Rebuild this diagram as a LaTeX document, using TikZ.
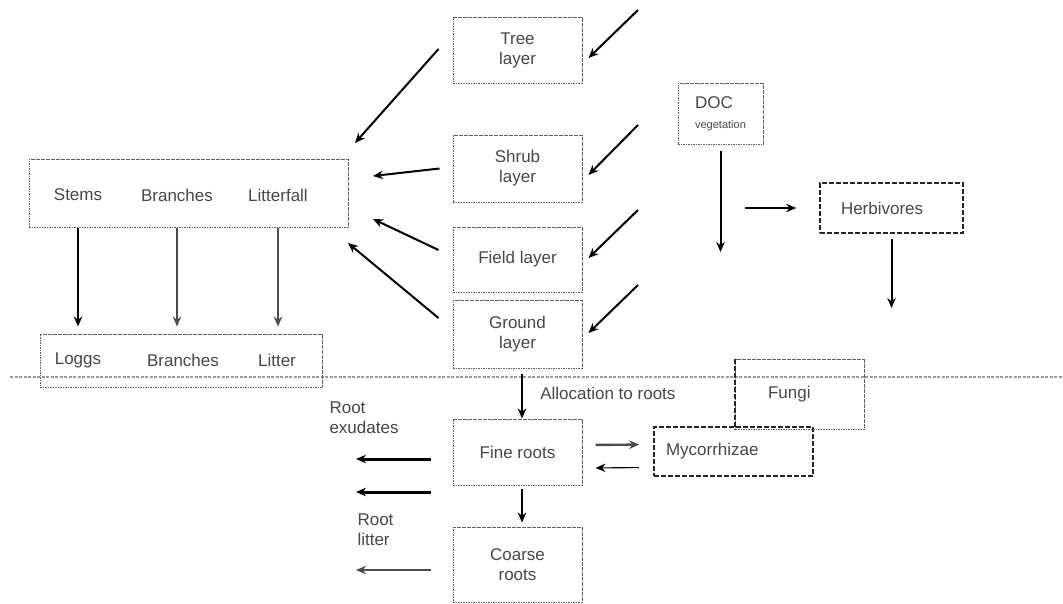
\documentclass[tikz,border=0pt]{standalone}
\usepackage{fontspec}
\setmainfont{Liberation Sans}
\usetikzlibrary{positioning,arrows.meta}

\begin{document}
\begin{tikzpicture}[
    x=1pt, y=-1pt,
    font=\fontsize{17}{20}\selectfont,
    text=black!72,
    pool/.style={draw=gray!75!black,dash pattern=on 1.6pt off 0.9pt,line width=1pt,align=center,minimum width=129pt},
    heavy/.style={draw=black!85,dash pattern=on 5pt off 2pt,line width=1.6pt},
    flow/.style={-{Stealth[length=10pt,width=8.5pt]},line width=2pt,draw=black},
    greyflow/.style={flow,draw=gray!60!black,line width=2.8pt},
    boldflow/.style={flow,line width=3pt},
    thinflow/.style={flow,line width=1.1pt},
    soil/.style={draw=gray!80,dash pattern=on 3pt off 1.5pt,line width=2.6pt}
]
\useasboundingbox (0,0) rectangle (1063,603);

% Soil surface
\draw[soil] (10,377) -- (1063,377);

% Vegetation layers
\node[pool,minimum height=66pt] (tree) at (517.5,50) {Tree\\layer};
\node[pool,minimum height=67pt] (shrub) at (517.5,168.5) {Shrub\\layer};
\node[pool,minimum height=65pt] (field) at (517.5,259.5) {Field layer};
\node[pool,minimum height=68pt] (ground) at (517.5,334) {Ground\\layer};

% DOC and herbivores
\node[pool,minimum width=85pt,minimum height=61pt,align=left] (doc) at (720.5,113.5) {DOC\\{\fontsize{11}{13}\selectfont vegetation}};
\node[pool,heavy,minimum height=50pt,text width=101pt,inner xsep=21pt,align=left] (herb) at (891.5,208) {Herbivores};

% Above-ground litter
\node[pool,minimum width=319pt,minimum height=68pt] (stems) at (188.5,193) {};
\node (stemsT) at (78,195) {Stems};
\node (branchT) at (177,195) {Branches};
\node (fallT) at (278,195) {Litterfall};

\node[pool,minimum width=282pt,minimum height=53pt] (loggs) at (181,360.5) {};
\node (loggsT) at (78,360) {Loggs};
\node (brT) at (183,360) {Branches};
\node (litT) at (277,360) {Litter};

\draw[flow,shorten >=7pt] (stems.south -| stemsT) -- (loggs.north -| stemsT);
\draw[greyflow,shorten >=7pt] (stems.south -| branchT) -- (loggs.north -| branchT);
\draw[greyflow,shorten >=7pt] (stems.south -| fallT) -- (loggs.north -| fallT);

% Roots
\node[pool,minimum height=66pt] (fine) at (517.5,452) {Fine roots};
\node[pool,minimum height=75pt] (coarse) at (517.5,564.5) {Coarse\\roots};

\draw[flow,shorten <=5pt] ([xshift=4.5pt]ground.south) -- node[right=14pt,pos=0.5] {Allocation to roots} ([xshift=4.5pt]fine.north);
\draw[flow,shorten <=3pt,shorten >=4pt] ([xshift=4.5pt]fine.south) -- ([xshift=4.5pt]coarse.north);

% Fungi and mycorrhizae
\node[pool,heavy,minimum height=49pt,text width=135pt,inner xsep=12pt,align=left] (myc) at (733.5,451.5) {Mycorrhizae};
\node[pool,minimum height=70pt,text width=64pt,inner xsep=31pt,align=left] (fungi) at (800,394) {Fungi};
\draw[heavy] (fungi.north west) -- (fungi.south west);

\draw[greyflow,line width=2.4pt,shorten <=13pt,shorten >=14pt] ([yshift=7pt]fine.east) -- ([yshift=7pt]myc.west);
\draw[thinflow,shorten <=14pt,shorten >=13pt] ([yshift=-16pt]myc.west) -- ([yshift=-16pt]fine.east);

% Root losses
\coordinate (exA) at (356,459);
\coordinate (exB) at (356,492);
\coordinate (litA) at (356,570);
\draw[boldflow,shorten <=22pt] (fine.west |- exA) -- (exA);
\draw[boldflow,shorten <=22pt] (fine.west |- exB) -- (exB);
\draw[greyflow,shorten <=22pt] (coarse.west |- litA) -- (litA);

\node[align=left,anchor=west] (exud) at (326,418) {Root\\exudates};
\node[align=left,anchor=west] (rlit) at (354,530) {Root\\litter};

% Inputs to layers
\coordinate (treeIn) at (638,10);
\coordinate (shrubIn) at (638,125);
\coordinate (fieldIn) at (638,210);
\coordinate (groundIn) at (638,285);
\draw[flow] (treeIn) -- ([shift={(6,8)}]tree.east);
\draw[flow] (shrubIn) -- ([shift={(6,6.5)}]shrub.east);
\draw[flow] (fieldIn) -- ([shift={(6,-1.5)}]field.east);
\draw[flow] (groundIn) -- ([shift={(6,-1)}]ground.east);

% Litterfall from layers
\coordinate (treeOut) at (355,143);
\coordinate (shrubOut) at (373,176);
\coordinate (fieldOut) at (373,219);
\coordinate (groundOut) at (348,243);
\draw[flow] ([shift={(-14,-1)}]tree.west) -- (treeOut);
\draw[flow] ([shift={(-13,0)}]shrub.west) -- (shrubOut);
\draw[flow] ([shift={(-14,-9.5)}]field.west) -- (fieldOut);
\draw[flow] ([shift={(-14,-16)}]ground.west) -- (groundOut);

% Grazing
\coordinate (docOut) at (722,252);
\coordinate (grazeIn) at (745,208);
\coordinate (herbOut) at (888,308);
\draw[flow,shorten <=6pt] (doc.south) -- (doc.south |- docOut);
\draw[flow,shorten >=23pt] (grazeIn) -- (herb.west);
\draw[flow,shorten <=5pt] (herb.south) -- (herb.south |- herbOut);

\end{tikzpicture}
\end{document}
